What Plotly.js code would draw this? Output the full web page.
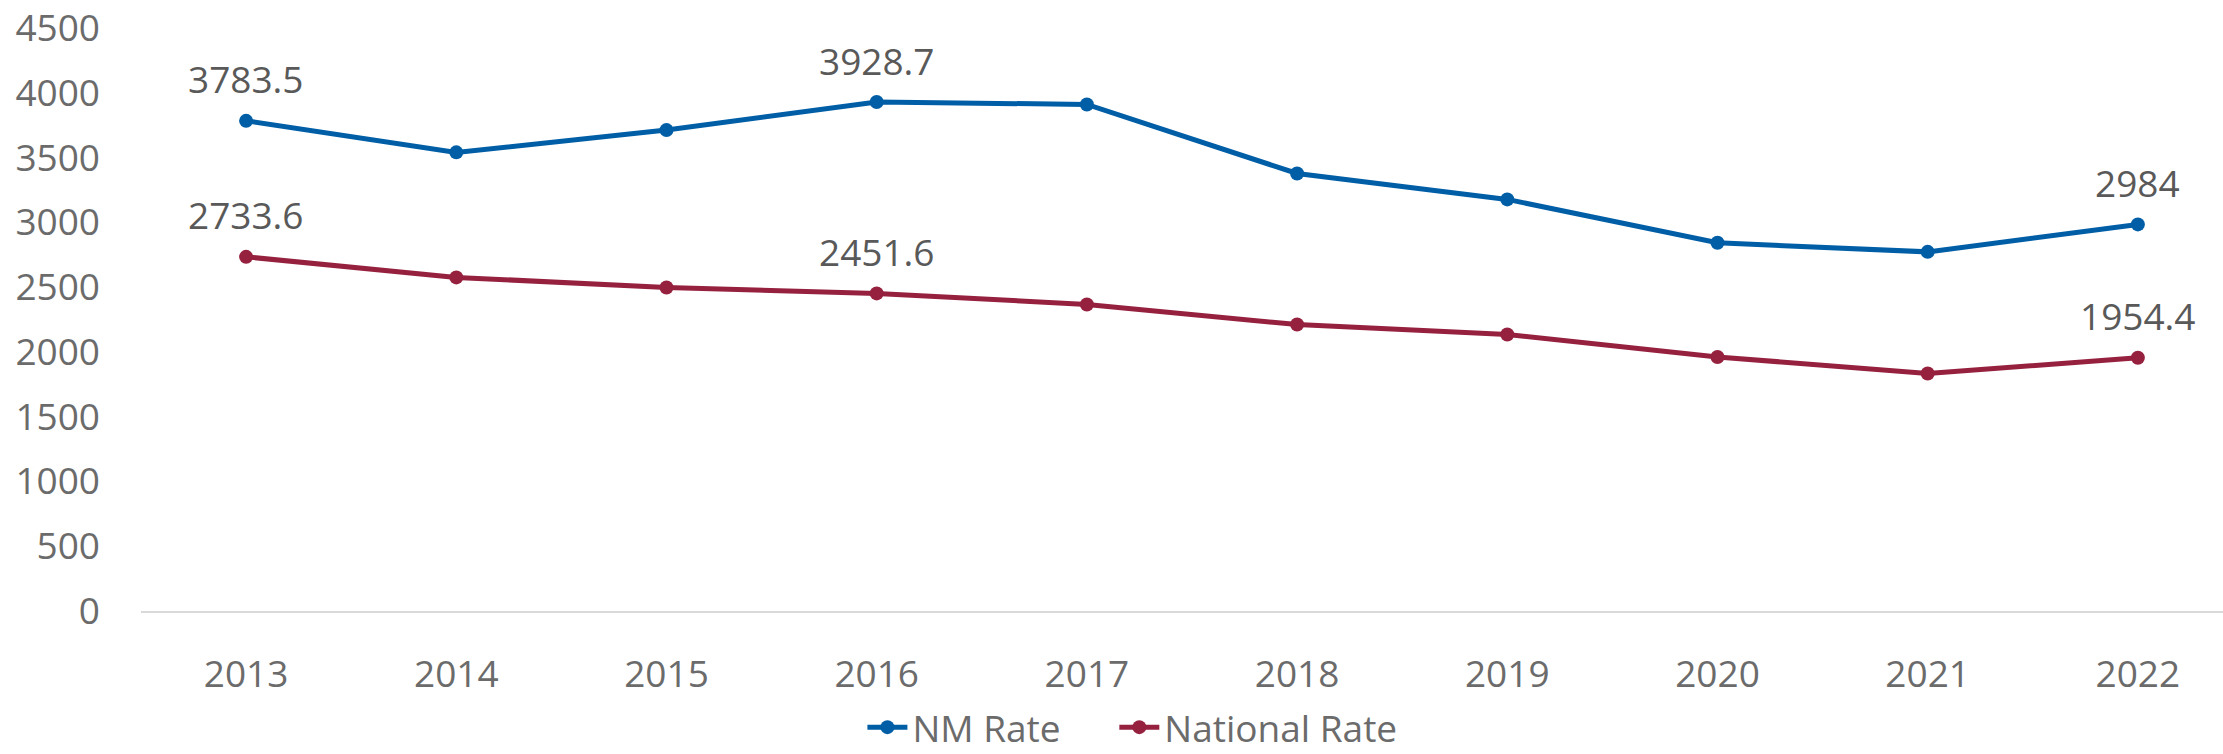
<!DOCTYPE html>
<html>
<head>
<meta charset="utf-8">
<script src="https://cdn.plot.ly/plotly-3.0.1.min.js"></script>
<style>html,body{margin:0;padding:0;background:#fff;}#chart{width:2223px;height:754px;}</style>
</head>
<body>
<div id="chart"></div>
<script>
// ---- data ----
var years = ["2013","2014","2015","2016","2017","2018","2019","2020","2021","2022"];
var nmRate = [3783.5, 3540, 3712, 3928.7, 3910, 3377, 3177, 2842, 2772, 2984];
var nationalRate = [2733.6, 2575, 2497, 2451.6, 2366, 2211, 2134, 1961, 1833, 1954.4];
var labeledYears = ["2013", "2016", "2022"];
var yTicks = [0, 500, 1000, 1500, 2000, 2500, 3000, 3500, 4000, 4500];

var FONT = "'Open Sans', 'Liberation Sans', sans-serif";
var BLUE = "#005EA6";
var MAROON = "#96213F";

function series(name, ys, color, legendId) {
  return {
    type: "scatter", mode: "lines+markers", name: name,
    x: years, y: ys, legend: legendId,
    line: {color: color, width: 5},
    marker: {color: color, size: 14},
    cliponaxis: false
  };
}

var traces = [
  series("NM Rate", nmRate, BLUE, "legend"),
  series("National Rate", nationalRate, MAROON, "legend2")
];

var annotations = [];
[nmRate, nationalRate].forEach(function (arr) {
  years.forEach(function (yr, i) {
    if (labeledYears.indexOf(yr) >= 0) {
      annotations.push({
        x: i, y: arr[i], xref: "x", yref: "y",
        text: String(arr[i]), showarrow: false,
        yshift: 42, font: {family: FONT, size: 37, color: "#595959"}
      });
    }
  });
});

function legendAt(xPaper) {
  return {
    orientation: "h", xref: "paper", x: xPaper, xanchor: "left",
    yref: "container", y: 0.035, yanchor: "middle",
    font: {family: FONT, size: 37, color: "#6b6b6b"},
    itemwidth: 40, bgcolor: "rgba(0,0,0,0)"
  };
}

var layout = {
  width: 2223, height: 754,
  margin: {l: 141, r: 0, t: 28, b: 143, autoexpand: false},
  paper_bgcolor: "#fff", plot_bgcolor: "#fff",
  font: {family: FONT, size: 37, color: "#6b6b6b"},
  showlegend: true,
  legend: legendAt(0.3465),
  legend2: legendAt(0.4675),
  xaxis: {
    type: "category", range: [-0.5, 9.405],
    showgrid: false, zeroline: false,
    showline: true, linecolor: "#d9d9d9", linewidth: 2,
    ticks: "", ticklabelstandoff: 30, automargin: false,
    tickfont: {family: FONT, size: 37, color: "#6b6b6b"},
    fixedrange: true
  },
  yaxis: {
    range: [0, 4500], tickvals: yTicks, ticktext: yTicks.map(String),
    showgrid: false, zeroline: false, showline: false,
    ticks: "", ticklabelstandoff: 40, automargin: false,
    tickfont: {family: FONT, size: 37, color: "#6b6b6b"},
    fixedrange: true
  },
  annotations: annotations
};

Plotly.newPlot("chart", traces, layout, {displayModeBar: false, staticPlot: true});
</script>
</body>
</html>
